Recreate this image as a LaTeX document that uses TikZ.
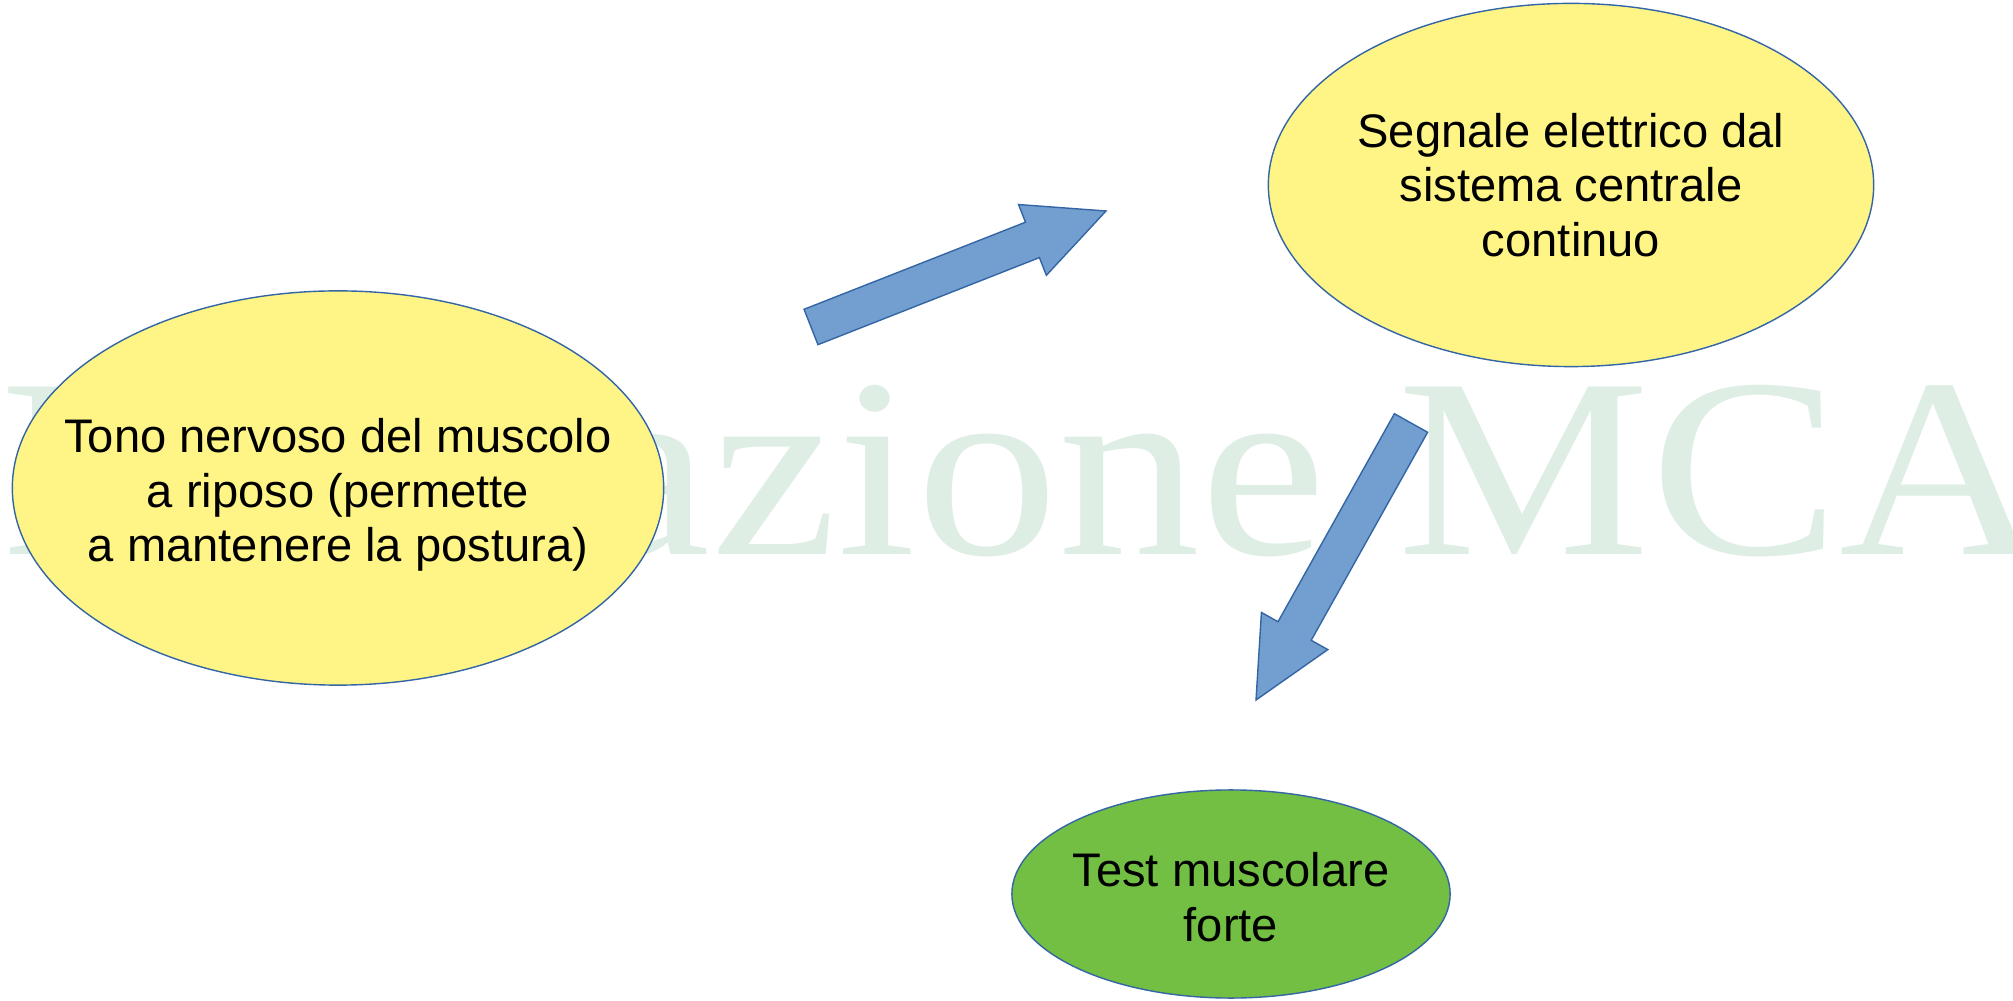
\documentclass[tikz,border=0pt]{standalone}
\usepackage{fontspec}
\setmainfont{Liberation Sans}
\newfontfamily\markfont{Liberation Serif}
\usetikzlibrary{shapes.geometric,calc,positioning}

\definecolor{bubbleyellow}{RGB}{255,245,135}
\definecolor{bubblegreen}{RGB}{114,191,68}
\definecolor{arrowblue}{RGB}{114,159,207}
\definecolor{edgeblue}{RGB}{52,101,164}
\definecolor{markgreen}{RGB}{222,238,229}

% block arrow from #1 (tail) to #2 (tip)
\newcommand{\blockarrow}[2]{%
  \coordinate (hb) at ($(#2)!0.79cm!(#1)$);
  \filldraw[arrowbox] ($(#1)!0.19cm!90:(#2)$) -- ($(hb)!0.19cm!90:(#2)$)
    -- ($(hb)!0.38cm!90:(#2)$) -- (#2) -- ($(hb)!0.38cm!-90:(#2)$)
    -- ($(hb)!0.19cm!-90:(#2)$) -- ($(#1)!0.19cm!-90:(#2)$) -- cycle;
}

\begin{document}
\begin{tikzpicture}[x=0.01cm,y=-0.01cm,
    bubble/.style={ellipse,draw=edgeblue,line width=0.4pt,inner sep=0pt},
    bubbletext/.style={align=center,inner sep=0pt,font=\fontsize{13.4pt}{15.45pt}\selectfont},
    arrowbox/.style={fill=arrowblue,draw=edgeblue,line width=0.4pt,line join=miter}]
    \useasboundingbox (0,0) rectangle (2013,1001);

    % Watermark
    \node[anchor=base west,inner sep=0pt,text=markgreen,font=\markfont\fontsize{80.8pt}{81pt}\selectfont]
        (mark) at (0,555) {\scalebox{1}[0.9]{Fondazione MCA}};

    % Bubbles
    \node[bubble,fill=bubbleyellow,minimum width=6.51cm,minimum height=3.94cm] (tono) at (338,488) {};
    \node[bubbletext] (tonotext) at (338,495) {Tono nervoso del muscolo\\a riposo (permette\\a mantenere la postura)};

    \node[bubble,fill=bubbleyellow,minimum width=6.05cm,minimum height=3.63cm] (segnale) at (1571,185) {};
    \node[bubbletext] (segnaletext) at (1571,185) {Segnale elettrico dal\\sistema centrale\\continuo};

    \node[bubble,fill=bubblegreen,minimum width=4.38cm,minimum height=2.08cm] (test) at (1231,894) {};
    \node[bubbletext] (testtext) at (1231,897) {Test muscolare\\forte};

    % Arrows
    \coordinate (a1tail) at (811,327);
    \coordinate (a1tip) at (1106,211);
    \coordinate (a2tail) at (1411,423);
    \coordinate (a2tip) at (1256,700);
    \blockarrow{a1tail}{a1tip}
    \blockarrow{a2tail}{a2tip}
\end{tikzpicture}
\end{document}
